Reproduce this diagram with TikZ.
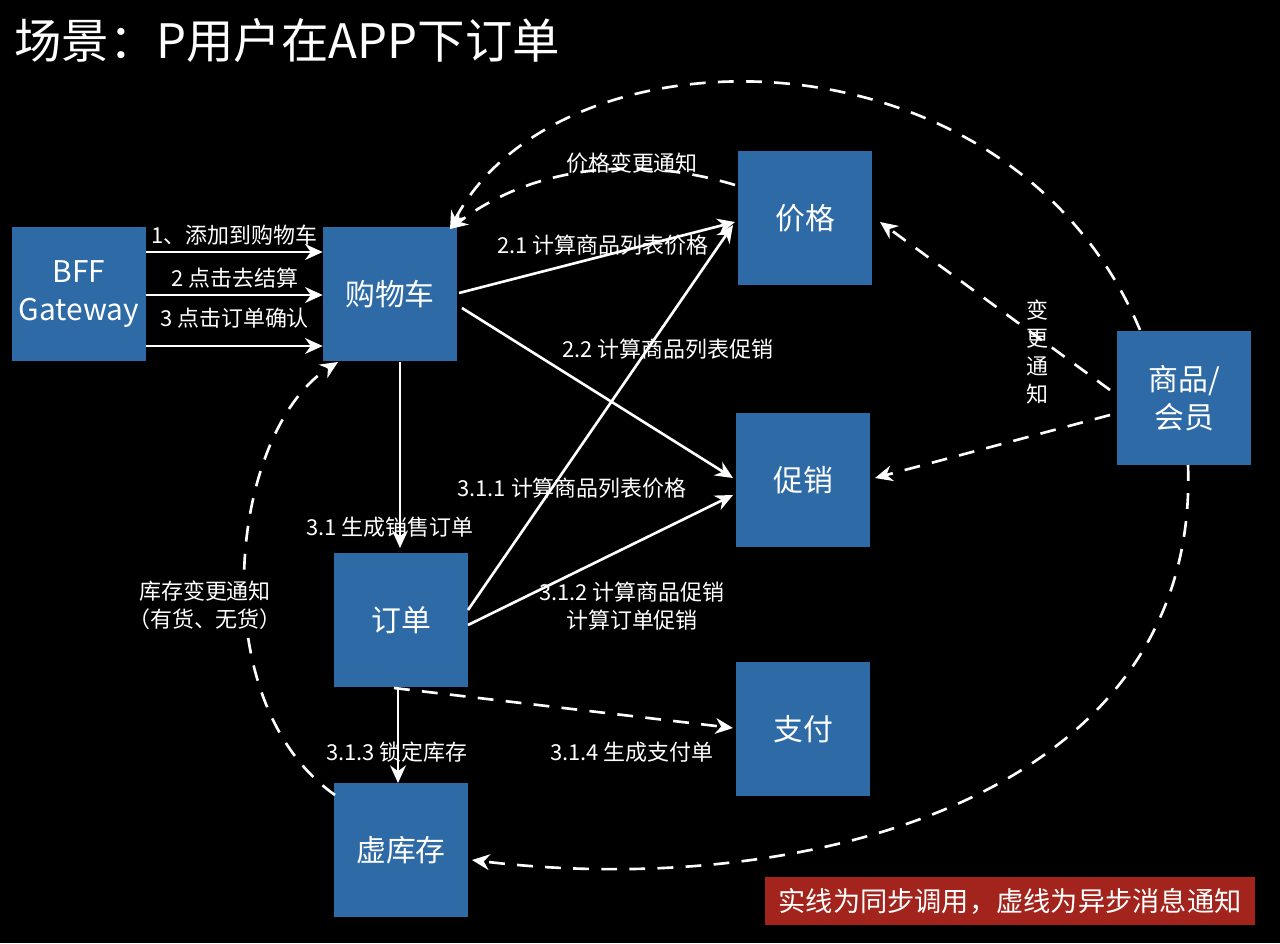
\documentclass[tikz,border=0pt]{standalone}
\usepackage{fontspec}
\setmainfont{Noto Sans CJK SC}
\usetikzlibrary{arrows.meta}
\definecolor{boxblue}{HTML}{2E6BA6}
\definecolor{notered}{HTML}{A3241C}
\begin{document}
\begin{tikzpicture}
[
  x=0.02cm, y=-0.02cm,
  svc/.style={fill=boxblue, text=white, minimum size=2.68cm, inner sep=0pt, font=\fontsize{17}{22}\selectfont, align=center},
  lbl/.style={text=white, font=\fontsize{12.5}{16}\selectfont, align=center},
  sync/.style={white, line width=1.5pt, -{Stealth[length=10pt,width=9pt]}},
  async/.style={white, line width=1.5pt, dash pattern=on 9pt off 7pt, -{Stealth[length=10pt,width=9pt]}}
]

\fill[black] (0,0) rectangle (1280,943);
\node[anchor=west, text=white, font=\fontsize{27}{30}\selectfont] (title) at (8,40) {场景：P用户在APP下订单};

% services
\node[svc] (bff) at (79,294) {BFF\\Gateway};
\node[svc] (cart) at (390,294) {购物车};
\node[svc] (price) at (805,218) {价格};
\node[svc] (promo) at (803,480) {促销};
\node[svc] (order) at (401,620) {订单};
\node[svc] (pay) at (803,729) {支付};
\node[svc] (stock) at (401,850) {虚库存};
\node[svc] (goods) at (1184,398) {商品/\\会员};

\node[fill=notered, text=white, minimum width=9.82cm, minimum height=0.96cm, font=\fontsize{15.5}{18}\selectfont] (note) at (1010,901) {实线为同步调用，虚线为异步消息通知};

% sync calls
\draw[sync] (bff.east |- 0,252) -- (cart.west |- 0,252) node[lbl, midway, above] {1、添加到购物车};
\draw[sync] (bff.east |- 0,295) -- (cart.west |- 0,295) node[lbl, midway, above] {2 点击去结算};
\draw[sync] (bff.east |- 0,346) -- (cart.west |- 0,346) node[lbl, midway, above=6pt] {3 点击订单确认};

\coordinate (cartR1) at (459,293);
\coordinate (cartR2) at (462,308);
\coordinate (cartB) at (400,362);
\coordinate (orderT) at (400,548);
\coordinate (orderR1) at (468,610);
\coordinate (orderR2) at (468,625);
\coordinate (orderB) at (398,688);
\coordinate (orderB2) at (394,688);
\coordinate (stockT) at (398,783);

\draw[sync] (cartR1) -- (735,222);
\draw[sync] (cartR2) -- (733,478);
\draw[sync] (cartB) -- (orderT);
\draw[sync] (orderR1) -- (733,225);
\draw[sync] (orderR2) -- (733,495);
\draw[sync] (orderB) -- (stockT);
\draw[async] (orderB2) -- (733,728);

\node[lbl] (l21) at (603,245) {2.1 计算商品列表价格};
\node[lbl] (l22) at (668,349) {2.2 计算商品列表促销};
\node[lbl] (l31) at (390,527) {3.1 生成销售订单};
\node[lbl] (l311) at (572,488) {3.1.1 计算商品列表价格};
\node[lbl] (l312) at (632,606) {3.1.2 计算商品促销\\计算订单促销};
\node[lbl] (l313) at (397,752) {3.1.3 锁定库存};
\node[lbl] (l314) at (632,752) {3.1.4 生成支付单};

% async notifications
\coordinate (cartTR) at (450,229);
\draw[async] (735,185) .. controls (620,150) and (520,175) .. (cartTR);
\node[lbl] (lprice) at (632,163) {价格变更通知};
\draw[async] (1140,330) .. controls (1010,20) and (560,20) .. (cartTR);
\draw[async] (1110,390) -- (880,222);
\draw[async] (1110,415) -- (875,478);
\node[lbl] (lgoods) at (1037,352) {变\\更\\通\\知};
\draw[async] (1188,465) .. controls (1200,800) and (800,900) .. (472,860);
\draw[async] (335,795) .. controls (200,700) and (230,430) .. (338,362);
\node[lbl, fill=black, inner sep=1pt] (lstock) at (205,605) {库存变更通知\\（有货、无货）};

\end{tikzpicture}
\end{document}
